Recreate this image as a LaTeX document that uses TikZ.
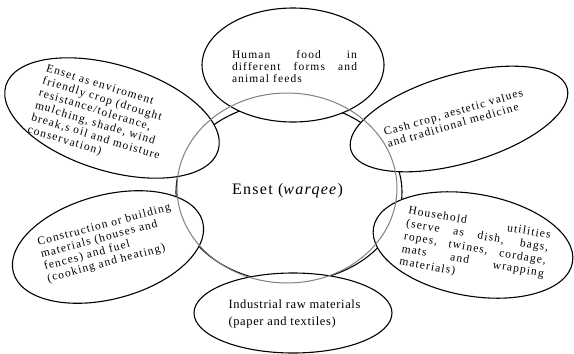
\documentclass[tikz,border=0pt]{standalone}
\usepackage{fontspec}
\setmainfont{Liberation Serif}
\newfontfamily\txtfont{Liberation Serif}[LetterSpace=10]
\newfontfamily\botfont{Liberation Serif}[LetterSpace=5]
\newfontfamily\cenfont{Liberation Serif}[LetterSpace=8]
\usetikzlibrary{shapes.geometric}
\begin{document}
\begin{tikzpicture}[x=1pt,y=-1pt,
  bigoval/.style={ellipse, draw=black, line width=1.1pt, inner sep=0pt, outer sep=0pt},
  oval/.style={bigoval, fill=white},
  grayoval/.style={ellipse, draw=black!50, line width=1pt, inner sep=0pt, outer sep=0pt},
  txt/.style={inner sep=0pt, align=left, font=\txtfont\fontsize{11.5}{12.5}\selectfont},
]
\useasboundingbox (0,0) rectangle (574,354);
% central black ellipse (partly hidden)
\node[bigoval, minimum width=226pt, minimum height=180pt] (core) at (289,192) {};
% outer ellipses
\node[oval, minimum width=182pt, minimum height=114pt] (food) at (293,65) {};
\node[oval, rotate=-17, minimum width=222pt, minimum height=106pt] (env) at (112,118) {};
\node[oval, rotate=16, minimum width=225pt, minimum height=89pt] (cash) at (459,119) {};
\node[oval, rotate=15, minimum width=196pt, minimum height=104pt] (build) at (108,247) {};
\node[oval, rotate=-10, minimum width=202pt, minimum height=102pt] (house) at (473,245) {};
\node[oval, minimum width=198pt, minimum height=80pt] (indus) at (293,313) {};
% gray ring on top
\node[grayoval, minimum width=220pt, minimum height=190pt] (ring) at (287,188) {};
% texts
\node[txt, font=\txtfont\fontsize{11.5}{12.3}\selectfont] (foodtxt) at (294.5,66.5)
  {\makebox[125pt][s]{Human food in}\\ \makebox[125pt][s]{different forms and}\\ animal feeds};
\node[txt, rotate=-17, font=\txtfont\fontsize{11.5}{12.7}\selectfont] (envtxt) at (101,119)
  {Enset as enviroment\\ friendly crop (drought\\ resistance/tolerance,\\ mulching, shade, wind\\ break,s oil and moisture\\ conservation)};
\node[txt, rotate=16, font=\txtfont\fontsize{11.5}{12.3}\selectfont] (cashtxt) at (455,118)
  {Cash crop, aestetic values\\ and traditional medicine};
\node[txt, rotate=15, font=\txtfont\fontsize{11.5}{12.5}\selectfont] (buildtxt) at (109,243.5)
  {Construction or building\\ materials (houses and\\ fences) and fuel\\ (cooking and heating)};
\node[txt, rotate=-10, font=\txtfont\fontsize{11.5}{13}\selectfont] (housetxt) at (475,249)
  {\makebox[144pt][s]{Household utilities}\\ \makebox[144pt][s]{(serve as dish, bags,}\\ \makebox[144pt][s]{ropes, twines, cordage,}\\ \makebox[144pt][s]{mats and wrapping}\\ materials)};
\node[txt, font=\botfont\fontsize{12.5}{17}\selectfont] (industxt) at (294.5,314)
  {Industrial raw materials\\ (paper and textiles)};
\node[inner sep=0pt, font=\cenfont\fontsize{16}{19}\selectfont] (title) at (287.5,191)
  {Enset (\textit{warqee})};
\end{tikzpicture}
\end{document}
